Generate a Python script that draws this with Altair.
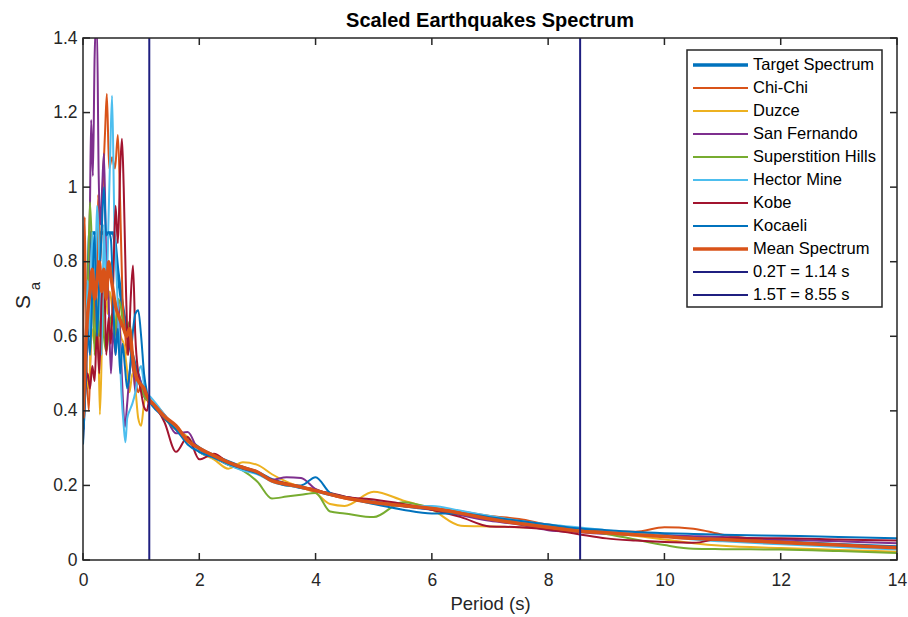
import altair as alt
import pandas as pd

# ---------------- data ----------------
T_LONG = [1.2, 1.4, 1.6, 1.8, 2.0, 2.25, 2.5, 2.75, 3.0, 3.25, 3.5, 3.75, 4.0, 4.25, 4.5,
          5.0, 5.5, 6.0, 6.5, 7.0, 7.5, 8.0, 8.5, 9.0, 9.5, 10.0, 10.5, 11.0, 12.0, 13.0, 14.0]

target_T = [0, 0.04, 0.08, 0.12, 0.52, 0.6, 0.7, 0.8, 0.9, 1.0, 1.14]
target_S = [0.35, 0.52, 0.7, 0.877, 0.877, 0.77, 0.66, 0.58, 0.52, 0.47, 0.43]
target_L = [0.415, 0.385, 0.355, 0.325, 0.3, 0.28, 0.263, 0.248, 0.235, 0.215, 0.204, 0.195, 0.186, 0.176, 0.168,
            0.155, 0.146, 0.137, 0.125, 0.112, 0.1, 0.09, 0.081, 0.075, 0.07, 0.065, 0.06, 0.056, 0.048, 0.041, 0.035]

chichi_T = [0, 0.03, 0.06, 0.1, 0.14, 0.18, 0.22, 0.26, 0.3, 0.34, 0.38, 0.41, 0.45, 0.5, 0.55, 0.6, 0.64,
            0.68, 0.72, 0.76, 0.8, 0.85, 0.9, 0.95, 1.0, 1.05, 1.1, 1.14]
chichi_S = [0.45, 0.92, 0.55, 0.4, 0.62, 0.75, 0.6, 0.98, 0.8, 1.0, 1.15, 1.25, 1.05, 1.08, 1.05, 1.14, 0.95,
            0.7, 0.62, 0.55, 0.6, 0.52, 0.48, 0.45, 0.47, 0.44, 0.43, 0.42]
chichi_L = [0.42, 0.39, 0.35, 0.32, 0.295, 0.28, 0.26, 0.25, 0.235, 0.215, 0.205, 0.195, 0.19, 0.175, 0.165,
            0.155, 0.145, 0.14, 0.13, 0.118, 0.11, 0.095, 0.085, 0.078, 0.076, 0.088, 0.084, 0.068, 0.05, 0.04, 0.03]

duzce_T = [0, 0.05, 0.1, 0.15, 0.2, 0.25, 0.29, 0.33, 0.38, 0.42, 0.46, 0.5, 0.55, 0.6, 0.65, 0.7, 0.75,
           0.8, 0.85, 0.9, 0.95, 1.0, 1.05, 1.1, 1.14]
duzce_S = [0.36, 0.5, 0.46, 0.62, 0.58, 0.7, 0.39, 0.6, 0.78, 0.66, 0.72, 0.68, 0.62, 0.7, 0.6, 0.58, 0.52,
           0.45, 0.5, 0.46, 0.38, 0.36, 0.42, 0.44, 0.43]
duzce_L = [0.42, 0.38, 0.35, 0.33, 0.29, 0.27, 0.245, 0.262, 0.255, 0.23, 0.21, 0.195, 0.18, 0.15, 0.145,
           0.183, 0.16, 0.135, 0.092, 0.09, 0.088, 0.085, 0.08, 0.072, 0.065, 0.055, 0.045, 0.038, 0.032, 0.027, 0.022]

sanfer_T = [0, 0.04, 0.08, 0.12, 0.14, 0.17, 0.2, 0.22, 0.24, 0.27, 0.3, 0.33, 0.36, 0.4, 0.44, 0.48, 0.52,
            0.56, 0.6, 0.64, 0.68, 0.72, 0.76, 0.8, 0.85, 0.9, 0.95, 1.0, 1.05, 1.1, 1.14]
sanfer_S = [0.34, 0.5, 0.62, 0.95, 1.18, 1.03, 1.35, 1.43, 1.43, 1.03, 0.9, 1.0, 1.09, 0.8, 0.7, 0.5, 0.62,
            0.55, 0.7, 0.6, 0.45, 0.357, 0.42, 0.5, 0.55, 0.45, 0.5, 0.47, 0.44, 0.43, 0.43]
sanfer_L = [0.42, 0.39, 0.34, 0.343, 0.29, 0.275, 0.255, 0.245, 0.235, 0.215, 0.222, 0.22, 0.19, 0.175, 0.17,
            0.155, 0.145, 0.135, 0.12, 0.105, 0.095, 0.08, 0.075, 0.07, 0.068, 0.066, 0.064, 0.062, 0.055, 0.05, 0.045]

superst_T = [0, 0.04, 0.08, 0.12, 0.16, 0.2, 0.24, 0.28, 0.32, 0.36, 0.4, 0.45, 0.5, 0.55, 0.6, 0.65, 0.7,
             0.75, 0.8, 0.85, 0.9, 0.95, 1.0, 1.05, 1.1, 1.14]
superst_S = [0.36, 0.5, 0.7, 0.96, 0.8, 0.55, 0.68, 0.6, 0.72, 0.6, 0.56, 0.62, 0.66, 0.6, 0.7, 0.68, 0.62,
             0.6, 0.64, 0.55, 0.5, 0.48, 0.46, 0.44, 0.43, 0.43]
superst_L = [0.42, 0.38, 0.35, 0.32, 0.29, 0.275, 0.255, 0.24, 0.21, 0.165, 0.17, 0.175, 0.18, 0.13, 0.125,
             0.115, 0.155, 0.14, 0.125, 0.11, 0.1, 0.09, 0.08, 0.07, 0.055, 0.04, 0.03, 0.029, 0.028, 0.024, 0.019]

hector_T = [0, 0.04, 0.08, 0.12, 0.16, 0.2, 0.24, 0.28, 0.32, 0.36, 0.4, 0.44, 0.47, 0.5, 0.54, 0.58, 0.62,
            0.66, 0.7, 0.73, 0.76, 0.8, 0.85, 0.9, 0.95, 1.0, 1.05, 1.1, 1.14]
hector_S = [0.36, 0.48, 0.75, 0.6, 0.88, 0.7, 0.95, 0.8, 0.55, 0.9, 0.7, 0.92, 1.1, 1.245, 0.9, 0.75, 0.6,
            0.45, 0.36, 0.316, 0.38, 0.4, 0.42, 0.45, 0.5, 0.52, 0.47, 0.44, 0.44]
hector_L = [0.43, 0.39, 0.35, 0.32, 0.29, 0.275, 0.255, 0.24, 0.23, 0.21, 0.2, 0.195, 0.185, 0.178, 0.168,
            0.155, 0.145, 0.145, 0.132, 0.118, 0.105, 0.095, 0.088, 0.08, 0.072, 0.065, 0.055, 0.05, 0.042, 0.035, 0.028]

kobe_T = [0, 0.04, 0.08, 0.12, 0.16, 0.2, 0.24, 0.28, 0.32, 0.36, 0.4, 0.44, 0.48, 0.52, 0.56, 0.6, 0.64,
          0.67, 0.7, 0.74, 0.78, 0.82, 0.86, 0.9, 0.95, 1.0, 1.05, 1.1, 1.14]
kobe_S = [0.32, 0.45, 0.5, 0.46, 0.52, 0.48, 0.62, 0.5, 0.7, 0.78, 0.55, 0.65, 0.58, 0.75, 0.95, 0.85, 1.05,
          1.13, 1.0, 0.72, 0.55, 0.7, 0.79, 0.6, 0.5, 0.45, 0.41, 0.4, 0.43]
kobe_L = [0.42, 0.37, 0.29, 0.33, 0.27, 0.285, 0.26, 0.245, 0.235, 0.215, 0.205, 0.195, 0.185, 0.18, 0.17,
          0.162, 0.15, 0.135, 0.115, 0.09, 0.088, 0.082, 0.07, 0.058, 0.052, 0.048, 0.046, 0.058, 0.058, 0.055, 0.052]

kocaeli_T = [0, 0.04, 0.08, 0.12, 0.16, 0.2, 0.24, 0.28, 0.32, 0.36, 0.4, 0.44, 0.48, 0.52, 0.56, 0.6, 0.64,
             0.68, 0.72, 0.76, 0.8, 0.85, 0.9, 0.95, 1.0, 1.05, 1.1, 1.14]
kocaeli_S = [0.31, 0.45, 0.62, 0.55, 0.72, 0.88, 0.6, 0.75, 0.88, 1.0, 0.87, 0.88, 0.86, 0.7, 0.55, 0.62, 0.5,
             0.58, 0.52, 0.46, 0.5, 0.6, 0.66, 0.67, 0.6, 0.5, 0.45, 0.43]
kocaeli_L = [0.42, 0.38, 0.35, 0.31, 0.29, 0.275, 0.258, 0.245, 0.232, 0.213, 0.2, 0.2, 0.222, 0.18, 0.168,
             0.15, 0.135, 0.125, 0.125, 0.115, 0.105, 0.095, 0.085, 0.08, 0.075, 0.072, 0.07, 0.068, 0.065, 0.062, 0.058]

mean_T = [0, 0.04, 0.08, 0.12, 0.16, 0.2, 0.24, 0.28, 0.32, 0.36, 0.4, 0.44, 0.48, 0.52, 0.56, 0.6, 0.65,
          0.7, 0.75, 0.8, 0.85, 0.9, 0.95, 1.0, 1.05, 1.1, 1.14]
mean_S = [0.38, 0.55, 0.66, 0.72, 0.78, 0.7, 0.75, 0.8, 0.72, 0.78, 0.7, 0.8, 0.76, 0.72, 0.68, 0.66, 0.64,
          0.62, 0.6, 0.62, 0.55, 0.5, 0.48, 0.47, 0.46, 0.44, 0.43]
mean_L = [0.42, 0.385, 0.36, 0.32, 0.3, 0.28, 0.262, 0.248, 0.236, 0.212, 0.203, 0.196, 0.186, 0.176, 0.167,
          0.154, 0.146, 0.138, 0.125, 0.11, 0.098, 0.088, 0.078, 0.073, 0.068, 0.063, 0.058, 0.055, 0.047, 0.04, 0.033]

names = ["Target Spectrum", "Chi-Chi", "Duzce", "San Fernando", "Superstition Hills",
         "Hector Mine", "Kobe", "Kocaeli", "Mean Spectrum"]
colors = ["#0072BD", "#D95319", "#EDB120", "#7E2F8E", "#77AC30", "#4DBEEE", "#A2142F", "#0072BD", "#D95319"]
widths = [3.5, 2.0, 2.0, 2.0, 2.0, 2.0, 2.0, 2.0, 3.5]
series_T = [target_T, chichi_T, duzce_T, sanfer_T, superst_T, hector_T, kobe_T, kocaeli_T, mean_T]
series_S = [target_S, chichi_S, duzce_S, sanfer_S, superst_S, hector_S, kobe_S, kocaeli_S, mean_S]
series_L = [target_L, chichi_L, duzce_L, sanfer_L, superst_L, hector_L, kobe_L, kocaeli_L, mean_L]

vline_T = [1.14, 8.55]
vline_names = ["0.2T = 1.14 s", "1.5T = 8.55 s"]
vline_color = "#1F1F80"

x_ticks = [0, 2, 4, 6, 8, 10, 12, 14]
y_ticks = [0, 0.2, 0.4, 0.6, 0.8, 1.0, 1.2, 1.4]

# ---------------- layout ----------------
W, H = 814, 522
FONT = "Liberation Sans"
AX = "#262626"

xs = alt.Scale(domain=[0, 14], nice=False, zero=False)
ys = alt.Scale(domain=[0, 1.4], nice=False, zero=False)

x_axis = alt.Axis(values=x_ticks, format="d", ticks=False, domain=False, grid=False, labelFlush=False,
                  labelFont=FONT, labelFontSize=17.5, labelColor=AX, labelPadding=11,
                  title="Period (s)", titleFont=FONT, titleFontSize=18.5,
                  titleFontWeight="normal", titleColor=AX, titlePadding=6)
y_axis = alt.Axis(values=y_ticks, format="~g", ticks=False, domain=False, grid=False, labelFlush=False,
                  labelFont=FONT, labelFontSize=17.5, labelColor=AX, labelPadding=6, title=None)


def xe(field):
    return alt.X(field, scale=xs, axis=x_axis)


def ye(field):
    return alt.Y(field, scale=ys, axis=y_axis)


layers = []

# series lines
for name, col, w, tt, ss, ll in zip(names, colors, widths, series_T, series_S, series_L):
    df = pd.DataFrame({"T": list(tt) + T_LONG, "Sa": list(ss) + ll, "name": name})
    layers.append(
        alt.Chart(df).mark_line(color=col, strokeWidth=w, interpolate="monotone", clip=True).encode(
            x=xe("T:Q"), y=ye("Sa:Q")
        )
    )

# vertical lines
vdf = pd.DataFrame({"T": vline_T, "name": vline_names})
layers.append(
    alt.Chart(vdf).mark_rule(color=vline_color, strokeWidth=2).encode(
        x=xe("T:Q"), y=alt.value(0), y2=alt.value(H)
    )
)

# MATLAB style inward ticks on all four sides
xaxis_df = pd.DataFrame({"T": x_ticks})
yaxis_df = pd.DataFrame({"Sa": y_ticks})
layers.append(
    alt.Chart(xaxis_df).mark_rule(color=AX, strokeWidth=1.5).encode(
        x=xe("T:Q"), y=alt.value(H), y2=alt.value(H - 7)
    )
)
layers.append(
    alt.Chart(xaxis_df).mark_rule(color=AX, strokeWidth=1.5).encode(
        x=xe("T:Q"), y=alt.value(0), y2=alt.value(7)
    )
)
layers.append(
    alt.Chart(yaxis_df).mark_rule(color=AX, strokeWidth=1.5).encode(
        y=ye("Sa:Q"), x=alt.value(0), x2=alt.value(7)
    )
)
layers.append(
    alt.Chart(yaxis_df).mark_rule(color=AX, strokeWidth=1.5).encode(
        y=ye("Sa:Q"), x=alt.value(W), x2=alt.value(W - 7)
    )
)

one = pd.DataFrame({"k": [0]})
# frame
layers.append(
    alt.Chart(one).mark_rect(fill=None, stroke=AX, strokeWidth=1.5).encode(
        x=alt.value(0), x2=alt.value(W), y=alt.value(0), y2=alt.value(H)
    )
)

# y title S_a
layers.append(
    alt.Chart(one).mark_text(text="S", font=FONT, fontSize=21, angle=270, align="center",
                             baseline="alphabetic", color=AX).encode(x=alt.value(-53), y=alt.value(264))
)
layers.append(
    alt.Chart(one).mark_text(text="a", font=FONT, fontSize=15, angle=270, align="center",
                             baseline="alphabetic", color=AX).encode(x=alt.value(-43), y=alt.value(248))
)

# title
layers.append(
    alt.Chart(one).mark_text(text="Scaled Earthquakes Spectrum", font=FONT, fontSize=20, fontWeight="bold",
                             align="center", baseline="alphabetic", color="black").encode(
        x=alt.value(W / 2), y=alt.value(-11))
)

# legend
leg_names = names + vline_names
leg_colors = colors + [vline_color, vline_color]
leg_widths = [3.5, 2.0, 2.0, 2.0, 2.0, 2.0, 2.0, 2.0, 3.5, 2.0, 2.0]
ROW0, ROWH = 27, 23
leg_df = pd.DataFrame({
    "name": leg_names,
    "color": leg_colors,
    "w": leg_widths,
    "ypix": [ROW0 + i * ROWH for i in range(len(leg_names))],
})
layers.append(
    alt.Chart(one).mark_rect(fill="white", stroke=AX, strokeWidth=1.5).encode(
        x=alt.value(604), x2=alt.value(799), y=alt.value(12), y2=alt.value(269)
    )
)
layers.append(
    alt.Chart(leg_df).mark_rule().encode(
        x=alt.value(610), x2=alt.value(665),
        y=alt.Y("ypix:Q", scale=None),
        color=alt.Color("color:N", scale=None, legend=None),
        strokeWidth=alt.StrokeWidth("w:Q", scale=None, legend=None),
    )
)
layers.append(
    alt.Chart(leg_df).mark_text(font=FONT, fontSize=16.5, align="left", baseline="middle", color="black").encode(
        x=alt.value(670), y=alt.Y("ypix:Q", scale=None), text="name:N"
    )
)

chart = alt.layer(*layers).properties(
    width=W, height=H,
    autosize=alt.AutoSizeParams(type="none"),
    padding={"left": 83, "top": 38, "right": 11, "bottom": 57},
    background="white",
).configure_view(stroke=None)

chart.save("out.html", embed_options={"renderer": "svg", "actions": False})
